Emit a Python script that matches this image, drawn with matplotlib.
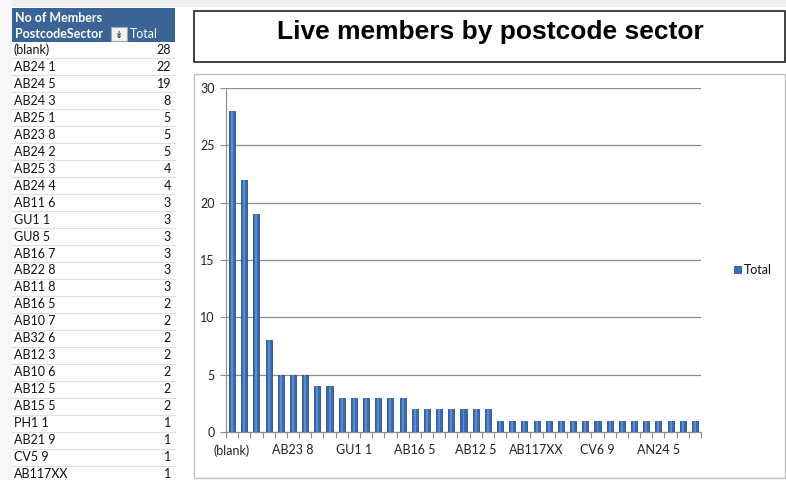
import numpy as np
import matplotlib
matplotlib.use("Agg")
import matplotlib.pyplot as plt
from matplotlib.patches import Rectangle

# Members per postcode sector (sorted descending); unnamed sectors beyond the
# pivot rows shown keep an empty label
sectors = ["(blank)", "AB24 1", "AB24 5", "AB24 3", "AB25 1", "AB23 8", "AB24 2",
           "AB25 3", "AB24 4", "AB11 6", "GU1 1", "GU8 5", "AB16 7", "AB22 8",
           "AB11 8", "AB16 5", "AB10 7", "AB32 6", "AB12 3", "AB10 6", "AB12 5",
           "AB15 5", "PH1 1", "AB21 9", "CV5 9", "AB117XX", "", "", "", "",
           "CV6 9", "", "", "", "", "AN24 5", "", "", ""]
members = [28, 22, 19, 8, 5, 5, 5, 4, 4, 3, 3, 3, 3, 3, 3, 2, 2, 2, 2, 2, 2, 2,
           1, 1, 1, 1, 1, 1, 1, 1, 1, 1, 1, 1, 1, 1, 1, 1, 1]
y_ticks = [0, 5, 10, 15, 20, 25, 30]
label_step = 5

W, H = 786, 480
fig = plt.figure(figsize=(W / 100, H / 100), dpi=100)
fig.patch.set_facecolor("white")


def px_rect(x0, y0, x1, y1):
    return [x0 / W, 1 - y1 / H, (x1 - x0) / W, (y1 - y0) / H]


# Sheet layer in pixel coordinates
sheet = fig.add_axes([0, 0, 1, 1])
sheet.set_xlim(0, W)
sheet.set_ylim(H, 0)
sheet.axis("off")
sheet.add_patch(Rectangle((0, 0), W, 7, color="#EFEFEF", lw=0))
sheet.add_patch(Rectangle((0, 0), 12, H, color="#F7F7F7", lw=0))

ui_font = ["Lato", "DejaVu Sans"]
fs = 9

# Pivot table header
hdr = "#3A6496"
sheet.add_patch(Rectangle((12, 8), 163, 34, color=hdr, lw=0))
sheet.text(15, 17.5, "No of Members", color="white", fontsize=fs,
           fontweight="bold", family=ui_font, va="center")
sheet.text(15, 34.5, "PostcodeSector", color="white", fontsize=fs,
           fontweight="bold", family=ui_font, va="center")
sheet.add_patch(Rectangle((111, 27), 16, 14, facecolor="#F2F2F2",
                          edgecolor="#9AA9BD", lw=0.8))
sheet.text(119, 34.5, "\u21A1", color="#333333", fontsize=7, ha="center",
           va="center", family=["DejaVu Sans"])
sheet.text(130, 34.5, "Total", color="white", fontsize=fs, family=ui_font,
           va="center")

# Pivot table rows
row_h = 16.96
n_rows = 26
for i in range(n_rows):
    yc = 50 + row_h * i
    sheet.text(14, yc, sectors[i], fontsize=fs, family=ui_font, va="center",
               color="#111111")
    sheet.text(171, yc, str(members[i]), fontsize=fs, family=ui_font,
               va="center", ha="right", color="#111111")
    sheet.plot([12, 175], [yc + row_h / 2, yc + row_h / 2], color="#D6E2F1",
               lw=0.8)

# Title box
sheet.add_patch(Rectangle((193.5, 10.5), 591, 51, facecolor="white",
                          edgecolor="#333333", lw=1.3))
sheet.text(490, 32, "Live members by postcode sector", fontsize=19,
           fontweight="bold", family=["Liberation Sans", "DejaVu Sans"],
           ha="center", va="center", color="black")

# Chart area frame
sheet.add_patch(Rectangle((193.5, 73.5), 591, 404, facecolor="white",
                          edgecolor="#BFBFBF", lw=1.0))

# Legend
sheet.add_patch(Rectangle((734, 266), 7, 7, facecolor="#3D6EB2",
                          edgecolor="#27518A", lw=0.6))
sheet.text(744, 270, "Total", fontsize=fs, family=ui_font, va="center",
           color="#111111")

# Column chart
ax = fig.add_axes(px_rect(226, 88, 701, 432))
x = np.arange(len(members))
ax.bar(x, members, width=0.5, color="#3A6BAE", edgecolor="#26508A",
       linewidth=0.6, zorder=3)
ax.bar(x, members, width=0.16, color="#6E9BD8", linewidth=0, zorder=4,
       alpha=0.7)

ax.set_xlim(-0.5, len(members) - 0.5)
ax.set_ylim(y_ticks[0], y_ticks[-1])
ax.set_yticks(y_ticks)
ax.yaxis.grid(True, color="#8C8C8C", lw=0.9)
ax.set_axisbelow(True)

major = list(range(0, len(members), label_step))
ax.set_xticks(major)
ax.set_xticklabels([sectors[i] for i in major], fontsize=fs, family=ui_font,
                   color="#222222")
ax.set_xticks(np.arange(-0.5, len(members), 1), minor=True)
ax.tick_params(axis="x", which="major", length=0, pad=9)
ax.tick_params(axis="x", which="minor", length=4, color="#8C8C8C", width=0.8)
ax.tick_params(axis="y", length=4, color="#8C8C8C", width=0.8,
               labelsize=fs, labelcolor="#222222", pad=4)
for lab in ax.get_yticklabels():
    lab.set_family(ui_font)

for side in ("top", "right"):
    ax.spines[side].set_visible(False)
ax.spines["left"].set_color("#8C8C8C")
ax.spines["bottom"].set_color("#8C8C8C")
ax.set_facecolor("none")

fig.savefig("out.png", dpi=100)
